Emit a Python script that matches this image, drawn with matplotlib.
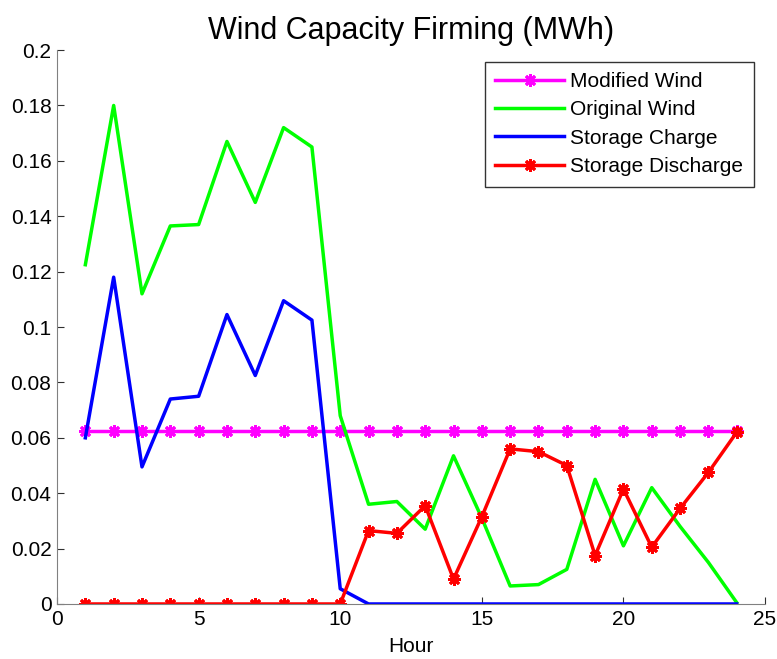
import numpy as np
import matplotlib
matplotlib.use('Agg')
import matplotlib.pyplot as plt

plt.rcParams['font.family'] = ['Liberation Sans', 'DejaVu Sans']

hours = list(range(1, 25))
modified_wind = [0.0625] * 24
original_wind = [0.1225, 0.180, 0.112, 0.1365, 0.137, 0.167, 0.145, 0.172, 0.165, 0.068,
                 0.036, 0.037, 0.027, 0.0535, 0.031, 0.0065, 0.007, 0.0125, 0.045, 0.021,
                 0.042, 0.028, 0.015, 0.0005]
storage_charge = [0.060, 0.118, 0.0495, 0.074, 0.075, 0.1045, 0.0825, 0.1095, 0.1025, 0.0055,
                  0, 0, 0, 0, 0, 0, 0, 0, 0, 0, 0, 0, 0, 0]
storage_discharge = [0, 0, 0, 0, 0, 0, 0, 0, 0, 0,
                     0.0265, 0.0255, 0.0355, 0.009, 0.0315, 0.056, 0.055, 0.050, 0.0175, 0.0415,
                     0.0205, 0.0345, 0.0475, 0.062]

fig = plt.figure(figsize=(7.77, 6.59), dpi=100)
ax = fig.add_axes([0.0734, 0.0835, 0.9112, 0.8405])

star = (8, 2, 0)
ax.plot(hours, modified_wind, color='#ff00ff', lw=2.5, marker=star, ms=9, mew=2, label='Modified Wind')
ax.plot(hours, original_wind, color='#00ff00', lw=2.5, label='Original Wind')
ax.plot(hours, storage_charge, color='#0000ff', lw=2.5, label='Storage Charge')
ax.plot(hours, storage_discharge, color='#ff0000', lw=2.5, marker=star, ms=9, mew=2, label='Storage Discharge')

ax.set_xlim(0, 25)
ax.set_ylim(0, 0.2)
ax.set_xticks([0, 5, 10, 15, 20, 25])
ax.set_yticks(np.arange(0, 0.201, 0.02))
ax.set_yticklabels(['0', '0.02', '0.04', '0.06', '0.08', '0.1', '0.12', '0.14', '0.16', '0.18', '0.2'])
ax.tick_params(direction='in', labelsize=15, length=5, color='#303030', pad=4)
ax.spines['top'].set_visible(False)
ax.spines['right'].set_visible(False)
ax.spines['left'].set_color('#808080')
ax.spines['bottom'].set_color('#808080')
ax.set_xlabel('Hour', fontsize=15, labelpad=6)
ax.set_title('Wind Capacity Firming (MWh)', fontsize=22, pad=8)

leg = ax.legend(loc='upper right', fontsize=15, fancybox=False, edgecolor='black',
                borderaxespad=0.55, handlelength=3.3, handletextpad=0.3,
                labelspacing=0.45, borderpad=0.5)
leg.get_frame().set_linewidth(1.0)

fig.savefig('out.png', dpi=100)
